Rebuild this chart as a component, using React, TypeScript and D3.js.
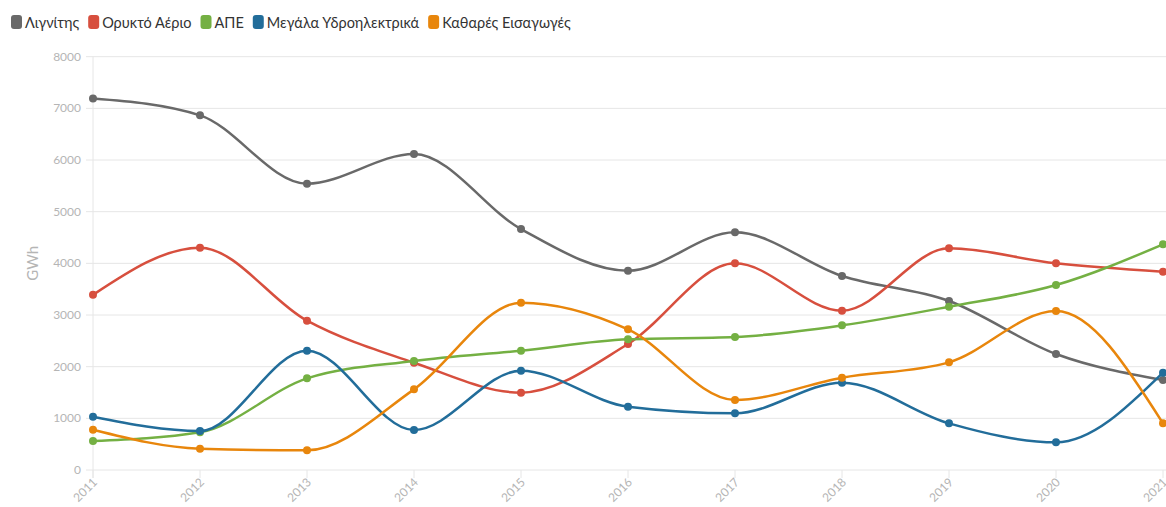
import React, { useEffect, useRef } from 'react';
import * as d3 from 'd3';

const years = [2011, 2012, 2013, 2014, 2015, 2016, 2017, 2018, 2019, 2020, 2021];
const lignite = [7190, 6865, 5542, 6116, 4664, 3857, 4600, 3755, 3271, 2245, 1742];
const gas = [3390, 4303, 2890, 2077, 1497, 2439, 4000, 3084, 4290, 4000, 3838];
const renewables = [560, 730, 1774, 2110, 2310, 2529, 2574, 2800, 3161, 3580, 4368];
const hydro = [1030, 755, 2310, 774, 1923, 1225, 1097, 1690, 903, 535, 1884];
const netImports = [780, 413, 381, 1561, 3239, 2723, 1355, 1787, 2084, 3077, 903];
const seriesNames = ['Λιγνίτης', 'Ορυκτό Αέριο', 'ΑΠΕ', 'Μεγάλα Υδροηλεκτρικά', 'Καθαρές Εισαγωγές'];
const seriesColors = ['#696969', '#d74f3e', '#74b043', '#226d9a', '#e8860c'];
const yTicks = [0, 1000, 2000, 3000, 4000, 5000, 6000, 7000, 8000];
const yTitle = 'GWh';

const W = 1166;
const H = 507;
const FONT = 'Lato, "Open Sans", sans-serif';

export default function App() {
  const ref = useRef<SVGSVGElement | null>(null);

  useEffect(() => {
    const svg = d3.select(ref.current);
    svg.selectAll('*').remove();

    const x = d3.scaleLinear().domain([2011, 2021]).range([93, 1163]);
    const y = d3.scaleLinear().domain([0, 8000]).range([470, 56.7]);

    const allSeries = [lignite, gas, renewables, hydro, netImports];

    // gridlines
    const grid = svg.append('g');
    grid
      .selectAll('line')
      .data(yTicks)
      .enter()
      .append('line')
      .attr('x1', 86)
      .attr('x2', W)
      .attr('y1', (d) => y(d))
      .attr('y2', (d) => y(d))
      .attr('stroke', '#e6e6e6')
      .attr('stroke-width', 1);

    // y axis line at first category
    svg
      .append('line')
      .attr('x1', x(2011))
      .attr('x2', x(2011))
      .attr('y1', y(8000))
      .attr('y2', 478)
      .attr('stroke', '#e6e6e6');

    // x ticks
    svg
      .append('g')
      .selectAll('line')
      .data(years)
      .enter()
      .append('line')
      .attr('x1', (d) => x(d))
      .attr('x2', (d) => x(d))
      .attr('y1', 470)
      .attr('y2', 478)
      .attr('stroke', '#e6e6e6');

    // y labels
    svg
      .append('g')
      .selectAll('text')
      .data(yTicks)
      .enter()
      .append('text')
      .attr('x', 81)
      .attr('y', (d) => y(d) + 4)
      .attr('text-anchor', 'end')
      .attr('font-family', FONT)
      .attr('font-size', 12)
      .attr('fill', '#b5b5b5')
      .text((d) => String(d));

    // y title
    svg
      .append('text')
      .attr('transform', `translate(38, ${y(4000)}) rotate(-90)`)
      .attr('text-anchor', 'middle')
      .attr('font-family', FONT)
      .attr('font-size', 15)
      .attr('fill', '#b5b5b5')
      .text(yTitle);

    // x labels
    svg
      .append('g')
      .selectAll('text')
      .data(years)
      .enter()
      .append('text')
      .attr('transform', (d) => `translate(${x(d) + 5}, 483) rotate(-45)`)
      .attr('text-anchor', 'end')
      .attr('font-family', FONT)
      .attr('font-size', 12)
      .attr('fill', '#b5b5b5')
      .text((d) => String(d));

    // lines
    const line = d3
      .line<number>()
      .x((_, i) => x(years[i]))
      .y((d) => y(d))
      .curve(d3.curveMonotoneX);

    allSeries.forEach((vals, si) => {
      const g = svg.append('g');
      g.append('path')
        .attr('d', line(vals) || '')
        .attr('fill', 'none')
        .attr('stroke', seriesColors[si])
        .attr('stroke-width', 2.5)
        .attr('stroke-linejoin', 'round')
        .attr('stroke-linecap', 'round');
      g.selectAll('circle')
        .data(vals)
        .enter()
        .append('circle')
        .attr('cx', (_, i) => x(years[i]))
        .attr('cy', (d) => y(d))
        .attr('r', 4)
        .attr('fill', seriesColors[si]);
    });

    // legend
    const legend = svg.append('g');
    let lx = 11;
    seriesNames.forEach((name, si) => {
      legend
        .append('rect')
        .attr('x', lx)
        .attr('y', 15)
        .attr('width', 11)
        .attr('height', 14)
        .attr('rx', 3)
        .attr('fill', seriesColors[si]);
      const t = legend
        .append('text')
        .attr('x', lx + 14)
        .attr('y', 28)
        .attr('font-family', FONT)
        .attr('font-size', 14.5)
        .attr('fill', '#333333')
        .text(name);
      const w = (t.node() as SVGTextElement).getComputedTextLength();
      lx += 14 + w + 9;
    });
  }, []);

  return (
    <svg
      ref={ref}
      width={W}
      height={H}
      style={{ position: 'absolute', left: 0, top: 0, background: '#fff' }}
    />
  );
}
